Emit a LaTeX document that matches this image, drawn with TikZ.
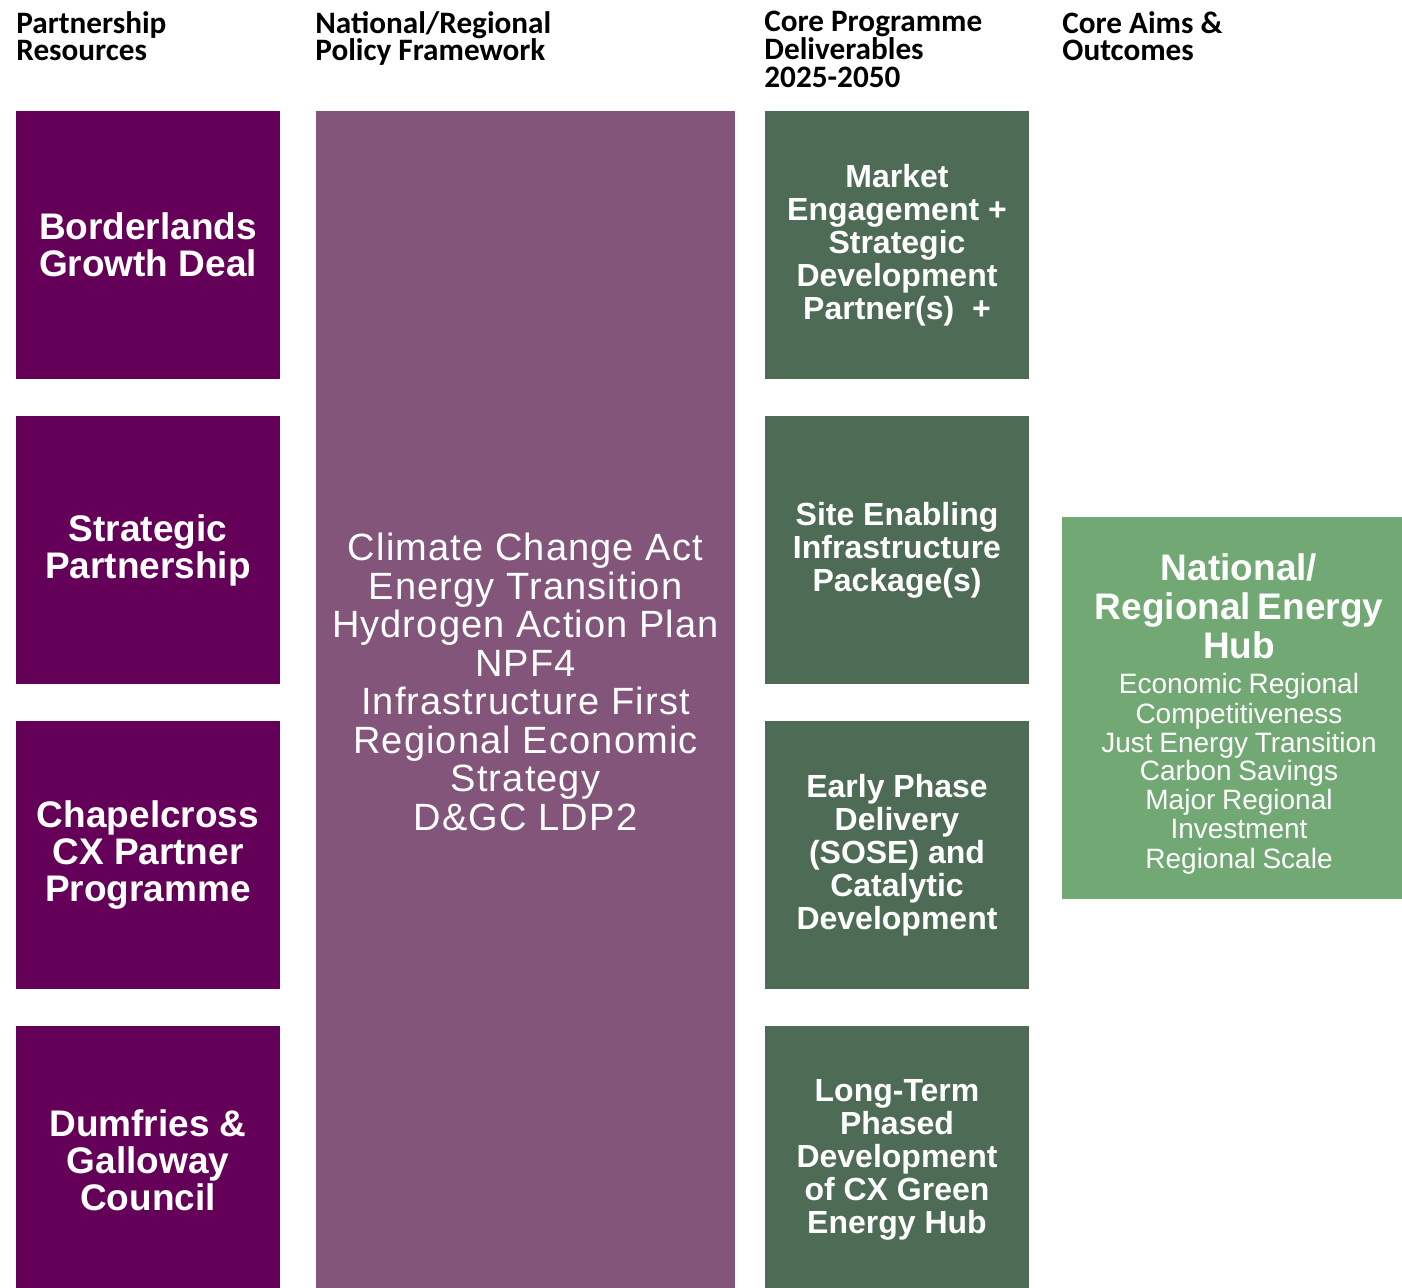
\documentclass[tikz,border=0pt]{standalone}
\usepackage{fontspec}
\setmainfont{Liberation Sans}
\newfontfamily\headfont{Carlito}
\newfontfamily\policyfont[LetterSpace=3]{Liberation Sans}
\usepackage{xcolor}

\definecolor{partnerpurple}{HTML}{650058}
\definecolor{policymauve}{HTML}{83557A}
\definecolor{deliverygreen}{HTML}{4E6B55}
\definecolor{outcomegreen}{HTML}{72A873}

\begin{document}
\begin{tikzpicture}[
  x=0.5pt,y=0.5pt,
  every node/.style={inner sep=0pt},
  heading/.style={anchor=north west,align=left,
    font={\headfont\bfseries\fontsize{15.6}{13.8}\selectfont}},
  resource/.style={fill=partnerpurple,text=white,align=center,
    minimum width=132pt,minimum height=134pt,
    font={\bfseries\fontsize{18.5}{18.5}\selectfont}},
  deliverable/.style={fill=deliverygreen,text=white,align=center,
    minimum width=132pt,minimum height=134pt,
    font={\bfseries\fontsize{16}{16.5}\selectfont}},
  policybox/.style={fill=policymauve,anchor=north,
    minimum width=209.5pt,minimum height=600pt},
  policytext/.style={text=white,align=center,
    font={\policyfont\fontsize{19}{19.25}\selectfont}},
  outcome/.style={fill=outcomegreen,minimum width=170pt,minimum height=191pt},
  outcometext/.style={text=white,align=center,text width=168pt}
]
  \useasboundingbox (0,0) rectangle (1402,-1288);
  \clip (0,0) rectangle (1402,-1288);

  % Column headings.
  \node[heading] (hresources) at (16,-11) {Partnership\\Resources};
  \node[heading] (hpolicy) at (315,-11) {National/Regional\\Policy Framework};
  \node[heading] (hdeliver) at (764,-11)
    {Core Programme\\Deliverables\\2025-2050};
  \node[heading] (haims) at (1062,-11) {Core Aims \&\\Outcomes};

  % Partnership resources.
  \node[resource] (growthdeal) at (148,-245) {Borderlands\\Growth Deal};
  \node[resource] (strategic) at (148,-550) {Strategic\\Partnership};
  \node[resource] (chapelcross) at (148,-855)
    {Chapelcross\\CX Partner\\Programme};
  \node[resource] (council) at (148,-1160) {Dumfries \&\\Galloway\\Council};

  % Policy framework: one tall panel, text sits above its middle.
  \node[policybox] (policy) at (525.5,-111) {};
  \node[policytext] (policylist) at (525.5,-682)
    {Climate Change Act\\Energy Transition\\Hydrogen Action Plan\\NPF4\\
     Infrastructure First\\Regional Economic\\Strategy\\D\&GC LDP2};

  % Programme deliverables.
  \node[deliverable] (market) at (897,-245)
    {Market\\Engagement +\\Strategic\\Development\\Partner(s)~ +};
  \node[deliverable] (siteenabling) at (897,-550)
    {Site Enabling\\Infrastructure\\Package(s)};
  \node[deliverable] (earlyphase) at (897,-855)
    {Early Phase\\Delivery\\(SOSE) and\\Catalytic\\Development};
  \node[deliverable] (longterm) at (897,-1160)
    {Long-Term\\Phased\\Development\\of CX Green\\Energy Hub};

  % Aims and outcomes: text set a little right of the box centre.
  \node[outcome] (hub) at (1232,-708) {};
  \node[outcometext] (hubtext) at (1239,-714)
    {{\bfseries\fontsize{18.5}{19.5}\selectfont
      National/\\Regional Energy\\Hub\par}
     \vspace{3pt}
     {\fontsize{14}{14.5}\selectfont
      Economic Regional\\Competitiveness\\Just Energy Transition\\
      Carbon Savings\\Major Regional\\Investment\\Regional Scale\par}};
\end{tikzpicture}
\end{document}
